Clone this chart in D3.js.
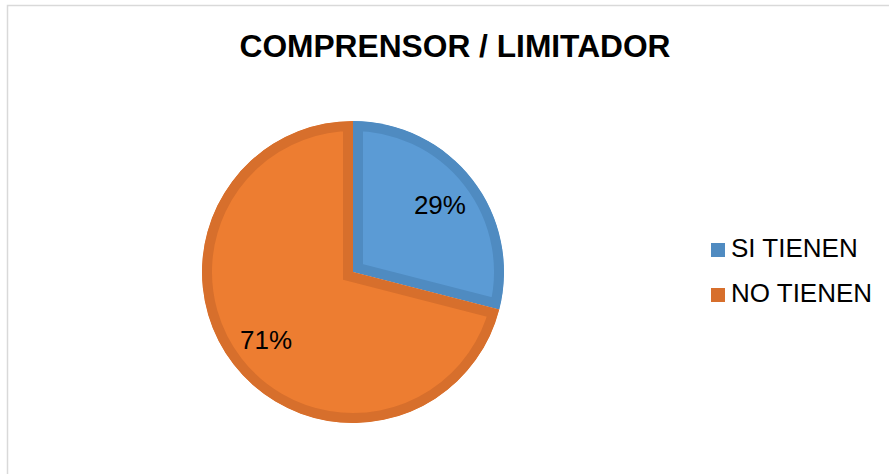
<!DOCTYPE html>
<html>
<head>
<meta charset="utf-8">
<script src="https://cdn.jsdelivr.net/npm/d3@7"></script>
<style>
  html, body { margin: 0; padding: 0; background: #fff; }
  svg { display: block; font-family: "Liberation Sans", Arial, sans-serif; }
</style>
</head>
<body>
<svg id="chart" width="889" height="474"></svg>
<script>
var categories = ["SI TIENEN", "NO TIENEN"];
var values = [29, 71];
var labels = ["29%", "71%"];
var fills = ["#5b9bd5", "#ed7d31"];
var strokes = ["#4f8bc1", "#d76f2c"];

var svg = d3.select("#chart");

// chart area border (right/bottom edges fall outside the picture)
svg.append("rect")
    .attr("x", 7.5).attr("y", 5.5)
    .attr("width", 900).attr("height", 500)
    .attr("fill", "#fff")
    .attr("stroke", "#d9d9d9")
    .attr("stroke-width", 1.5);

// title
svg.append("text")
    .attr("x", 455).attr("y", 56.5)
    .attr("text-anchor", "middle")
    .attr("font-size", 31.5)
    .attr("font-weight", "bold")
    .attr("textLength", 431)
    .attr("lengthAdjust", "spacingAndGlyphs")
    .attr("fill", "#000")
    .text("COMPRENSOR / LIMITADOR");

var cx = 353, cy = 272, R = 151;
var pie = d3.pie().sort(null).value(function(d){ return d; });
var arcs = pie(values);
var arc = d3.arc().innerRadius(0).outerRadius(R);
var labelArc = d3.arc().innerRadius(110).outerRadius(110);

var g = svg.append("g").attr("transform", "translate(" + cx + "," + cy + ")");
var defs = svg.append("defs");

// each slice: fill + border drawn inside its own shape
arcs.forEach(function(a, i) {
    defs.append("clipPath").attr("id", "clip" + i)
        .append("path").attr("d", arc(a));
    g.append("path")
        .attr("d", arc(a))
        .attr("fill", fills[i])
        .attr("stroke", strokes[i])
        .attr("stroke-width", 20)
        .attr("stroke-linejoin", "miter")
        .attr("clip-path", "url(#clip" + i + ")");
});

g.selectAll("text.lbl")
    .data(arcs)
    .enter()
    .append("text")
    .attr("class", "lbl")
    .attr("transform", function(d){ return "translate(" + labelArc.centroid(d) + ")"; })
    .attr("text-anchor", "middle")
    .attr("dy", "0.35em")
    .attr("font-size", 26)
    .attr("fill", "#000")
    .text(function(d, i){ return labels[i]; });

// legend
var leg = svg.append("g").attr("transform", "translate(711,243)");
var items = leg.selectAll("g")
    .data(categories)
    .enter()
    .append("g")
    .attr("transform", function(d, i){ return "translate(0," + (i * 45) + ")"; });
items.append("rect")
    .attr("width", 14).attr("height", 14)
    .attr("fill", function(d, i){ return strokes[i]; });
items.append("text")
    .attr("x", 20).attr("y", 14)
    .attr("font-size", 26)
    .attr("fill", "#000")
    .text(function(d){ return d; });
</script>
</body>
</html>
